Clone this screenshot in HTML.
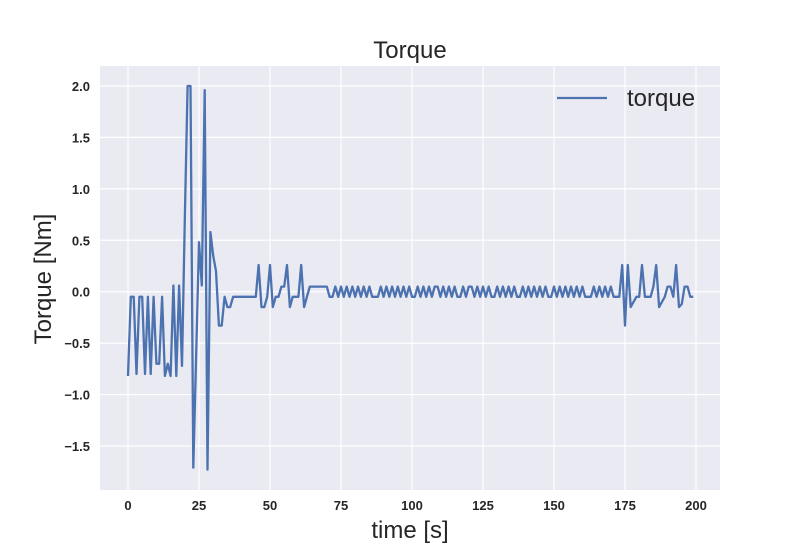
<!DOCTYPE html>
<html><head><meta charset="utf-8"><style>
body{margin:0;background:#fff;}
svg text{font-family:"Liberation Sans",sans-serif;fill:#262626;}
</style></head><body>
<svg id="chart" width="800" height="550" xmlns="http://www.w3.org/2000/svg">
<rect x="100" y="66" width="620" height="424" fill="#EAEAF2"/>
<g id="grid"></g>
<g id="ticks"></g>
<path id="line" fill="none" stroke="#4C72B0" stroke-width="2.3" stroke-linejoin="round"/>
<text x="410" y="58" font-size="24" text-anchor="middle">Torque</text>
<text x="410" y="538" font-size="24" text-anchor="middle">time [s]</text>
<text transform="translate(51,279) rotate(-90)" font-size="24" text-anchor="middle">Torque [Nm]</text>
<g>
<line x1="557" y1="98" x2="607" y2="98" stroke="#4C72B0" stroke-width="2.3"/>
<text x="627" y="106" font-size="24">torque</text>
</g>
</svg>
<script>
const xTicks=[0,25,50,75,100,125,150,175,200];
const yTicks=[-1.5,-1.0,-0.5,0.0,0.5,1.0,1.5,2.0];
const yTickLabels=["\u22121.5","\u22121.0","\u22120.5","0.0","0.5","1.0","1.5","2.0"];
const B=-0.05,T=0.05;
const torque=[-0.82,-0.05,-0.05,-0.8,-0.05,-0.05,-0.8,-0.05,-0.8,-0.05,
-0.7,-0.7,-0.05,-0.82,-0.7,-0.82,0.06,-0.82,0.06,-0.72,
0.7,2.0,2.0,-1.71,-0.6,0.48,0.06,1.96,-1.73,0.58,
0.35,0.2,-0.33,-0.33,-0.05,-0.15,-0.15,-0.05,-0.05,-0.05,
-0.05,-0.05,-0.05,-0.05,-0.05,-0.05,0.26,
-0.15,-0.15,-0.05,0.26,-0.15,-0.05,-0.05,0.05,0.05,0.26,-0.15,-0.05,-0.05,-0.05,0.26,-0.15,-0.05,0.05,0.05,0.05,0.05,0.05,0.05,0.05,
B,B,T,B,T,B,T,B,T,B,
T,B,T,B,T,B,B,B,T,B,
T,B,T,B,T,B,T,B,T,B,
B,T,B,T,B,T,B,T,T,B,
T,B,T,B,T,B,B,T,B,T,
T,B,T,B,T,B,T,B,B,T,
B,T,B,T,B,T,B,B,T,B,
T,B,T,B,T,B,T,B,B,T,
B,T,B,T,B,T,B,T,B,T,
B,B,B,T,B,T,B,T,B,T,
B,B,B,
0.26,-0.33,0.26,-0.15,-0.1,-0.05,-0.05,0.26,-0.05,-0.05,-0.05,0.05,0.26,-0.15,-0.1,-0.05,0.05,0.05,-0.05,0.26,-0.15,-0.12,0.05,0.05,-0.05,-0.05];
const xs=v=>128+v*2.84;
const ys=v=>291.7-v*102.86;
const NS="http://www.w3.org/2000/svg";
const grid=document.getElementById('grid'),ticks=document.getElementById('ticks');
xTicks.forEach(t=>{
 const l=document.createElementNS(NS,'line');
 l.setAttribute('x1',xs(t));l.setAttribute('x2',xs(t));l.setAttribute('y1',66);l.setAttribute('y2',490);
 l.setAttribute('stroke','#fff');l.setAttribute('stroke-width','1.2');
 
 
 grid.appendChild(l);
 const tx=document.createElementNS(NS,'text');
 tx.setAttribute('x',xs(t));tx.setAttribute('y',510);tx.setAttribute('font-size','13');tx.setAttribute('font-weight','bold');tx.setAttribute('text-anchor','middle');
 tx.textContent=t;
 
 
 ticks.appendChild(tx);
});
yTicks.forEach((t,i)=>{
 const l=document.createElementNS(NS,'line');
 l.setAttribute('x1',100);l.setAttribute('x2',720);l.setAttribute('y1',ys(t));l.setAttribute('y2',ys(t));
 l.setAttribute('stroke','#fff');l.setAttribute('stroke-width','1.2');
 
 
 grid.appendChild(l);
 const tx=document.createElementNS(NS,'text');
 tx.setAttribute('x',90);tx.setAttribute('y',ys(t)+5);tx.setAttribute('font-size','13');tx.setAttribute('font-weight','bold');tx.setAttribute('text-anchor','end');
 tx.textContent=yTickLabels[i];
 
 
 ticks.appendChild(tx);
});
document.getElementById('line').setAttribute('d',torque.map((v,i)=>(i?'L':'M')+xs(i).toFixed(1)+','+ys(v).toFixed(1)).join(''));
</script>
</body></html>
